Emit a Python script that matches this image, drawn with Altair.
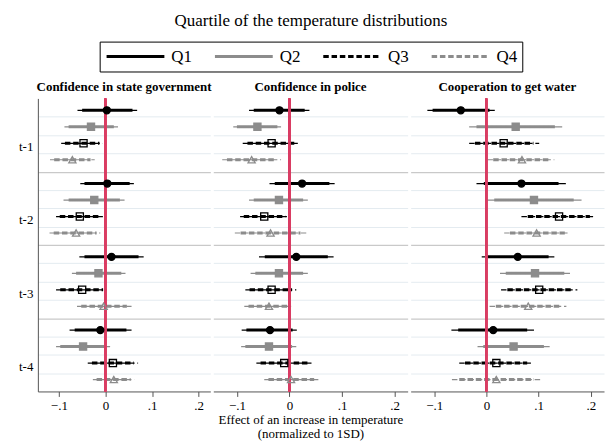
import altair as alt
import pandas as pd

FONT = "Liberation Serif"
RED = "#d93d63"
GRAY = "#8c8c8c"

lags = ["t-1", "t-2", "t-3", "t-4"]
quartiles = ["Q1", "Q2", "Q3", "Q4"]
panels = ["Confidence in state government", "Confidence in police", "Cooperation to get water"]
main_title = "Quartile of the temperature distributions"
x_title = ["Effect of an increase in temperature", "(normalized to 1SD)"]
tick_values = [-0.1, 0, 0.1, 0.2]

# order of each list: t-1 Q1..Q4, t-2 Q1..Q4, t-3 Q1..Q4, t-4 Q1..Q4
gov_est = [0.003, -0.031, -0.047, -0.071, 0.004, -0.024, -0.055, -0.063,
           0.013, -0.015, -0.050, -0.004, -0.011, -0.048, 0.016, 0.018]
gov_lo95 = [-0.060, -0.088, -0.095, -0.119, -0.054, -0.090, -0.106, -0.120,
            -0.056, -0.072, -0.106, -0.061, -0.077, -0.106, -0.038, -0.027]
gov_hi95 = [0.068, 0.027, -0.006, -0.023, 0.061, 0.041, -0.001, -0.011,
            0.082, 0.043, 0.003, 0.056, 0.056, 0.010, 0.070, 0.062]
gov_lo90 = [-0.050, -0.079, -0.087, -0.110, -0.045, -0.079, -0.098, -0.111,
            -0.045, -0.063, -0.097, -0.052, -0.066, -0.097, -0.029, -0.019]
gov_hi90 = [0.058, 0.018, -0.013, -0.032, 0.052, 0.031, -0.010, -0.019,
            0.071, 0.034, -0.005, 0.046, 0.045, 0.001, 0.061, 0.054]

pol_est = [-0.019, -0.061, -0.034, -0.072, 0.024, -0.020, -0.048, -0.036,
           0.013, -0.020, -0.034, -0.039, -0.037, -0.039, -0.010, 0.003]
pol_lo95 = [-0.077, -0.107, -0.089, -0.128, -0.038, -0.077, -0.094, -0.104,
            -0.058, -0.074, -0.084, -0.086, -0.091, -0.092, -0.063, -0.048]
pol_hi95 = [0.038, -0.016, 0.021, -0.016, 0.086, 0.035, 0.000, 0.032,
            0.084, 0.035, 0.013, 0.008, 0.014, 0.013, 0.043, 0.055]
pol_lo90 = [-0.068, -0.100, -0.080, -0.119, -0.028, -0.068, -0.087, -0.093,
            -0.047, -0.065, -0.076, -0.078, -0.082, -0.084, -0.055, -0.040]
pol_hi90 = [0.029, -0.023, 0.012, -0.025, 0.076, 0.026, -0.008, 0.021,
            0.073, 0.026, 0.005, 0.000, 0.006, 0.005, 0.035, 0.047]

wat_est = [-0.049, 0.056, 0.033, 0.068, 0.067, 0.091, 0.139, 0.096,
           0.060, 0.093, 0.101, 0.080, 0.013, 0.052, 0.019, 0.019]
wat_lo95 = [-0.113, -0.033, -0.033, 0.002, -0.019, 0.000, 0.067, 0.034,
            -0.009, 0.026, 0.028, 0.006, -0.067, -0.017, -0.052, -0.066]
wat_hi95 = [0.016, 0.145, 0.101, 0.130, 0.152, 0.182, 0.209, 0.160,
            0.130, 0.160, 0.174, 0.153, 0.091, 0.121, 0.089, 0.105]
wat_lo90 = [-0.103, -0.019, -0.022, 0.013, -0.005, 0.015, 0.079, 0.045,
            0.002, 0.037, 0.040, 0.018, -0.054, -0.006, -0.041, -0.052]
wat_hi90 = [0.006, 0.131, 0.090, 0.120, 0.138, 0.167, 0.198, 0.150,
            0.119, 0.149, 0.162, 0.142, 0.078, 0.110, 0.078, 0.091]

series = {
    panels[0]: (gov_est, gov_lo95, gov_hi95, gov_lo90, gov_hi90),
    panels[1]: (pol_est, pol_lo95, pol_hi95, pol_lo90, pol_hi90),
    panels[2]: (wat_est, wat_lo95, wat_hi95, wat_lo90, wat_hi90),
}

rows = []
for p, (est, lo95, hi95, lo90, hi90) in series.items():
    k = 0
    for li, lag in enumerate(lags):
        for qi, q in enumerate(quartiles):
            rows.append(dict(panel=p, lag=lag, lag_i=li, quartile=q, q_i=qi,
                             est=est[k], lo95=lo95[k], hi95=hi95[k],
                             lo90=lo90[k], hi90=hi90[k]))
            k += 1
df = pd.DataFrame(rows)

xscale = alt.Scale(domain=[-0.145, 0.225], nice=False, zero=False)
yscale = alt.Scale(domain=[0, 16], reverse=True, nice=False, zero=False)
col_scale = alt.Scale(domain=quartiles, range=["#000000", GRAY, "#000000", GRAY])
dash_scale = alt.Scale(domain=quartiles, range=[[1, 0], [1, 0], [5, 2.5], [5, 2.5]])
shape_scale = alt.Scale(domain=quartiles, range=["circle", "square", "square", "triangle-up"])
fill_scale = alt.Scale(domain=quartiles, range=["#000000", GRAY, "transparent", "transparent"])
size_scale = alt.Scale(domain=quartiles, range=[50, 52, 40, 30])

label_expr_x = "datum.value == 0 ? '0' : replace(format(datum.value, '.1f'), '0.', '.')"
lag_list = "[" + ",".join("'%s'" % l for l in lags) + "]"


def x_axis(with_title):
    kw = dict(values=tick_values, labelExpr=label_expr_x, grid=False, tickSize=5,
              labelFontSize=13, labelPadding=3, domainColor="#555", tickColor="#555",
              titleFontSize=13, titleFontWeight="normal", titlePadding=1,
              titleLineHeight=14.5)
    kw["title"] = x_title if with_title else ""
    return alt.Axis(**kw)


grid_axis = alt.Axis(
    orient="right", values=[v for v in range(1, 16)], grid=True,
    gridColor={"condition": {"test": "datum.value % 4 === 0", "value": "#c9c9c9"},
               "value": "#e4ebf0"},
    gridWidth={"condition": {"test": "datum.value % 4 === 0", "value": 1.3},
               "value": 1},
    labels=False, ticks=False, domain=False, title=None, minExtent=0, maxExtent=0)

label_axis = alt.Axis(
    orient="left", values=[4 * i + 2.63 for i in range(len(lags))],
    labelExpr=lag_list + "[floor(datum.value / 4)]", grid=False, ticks=False,
    domain=True, domainColor="#555", labelFontSize=13, labelPadding=5,
    title=None, minExtent=30, maxExtent=30)


def make_panel(name, idx, width):
    d = df[df.panel == name]
    base = alt.Chart(d).transform_calculate(
        ypos="4 * datum.lag_i + 0.65 + 0.9 * datum.q_i")
    xa = x_axis(idx == 1)
    thin = base.mark_rule(strokeWidth=1.2).encode(
        x=alt.X("lo95:Q", scale=xscale, axis=xa),
        x2="hi95:Q",
        y=alt.Y("ypos:Q", scale=yscale, axis=grid_axis),
        color=alt.Color("quartile:N", scale=col_scale, legend=None),
        strokeDash=alt.StrokeDash("quartile:N", scale=dash_scale, legend=None),
    )
    thick = base.mark_rule(strokeWidth=3).encode(
        x=alt.X("lo90:Q", scale=xscale, axis=xa),
        x2="hi90:Q",
        y=alt.Y("ypos:Q", scale=yscale, axis=label_axis if idx == 0 else None),
        color=alt.Color("quartile:N", scale=col_scale, legend=None),
        strokeDash=alt.StrokeDash("quartile:N", scale=dash_scale, legend=None),
    )
    zero = alt.Chart(d).mark_rule(color=RED, strokeWidth=1.5).encode(
        x=alt.datum(0, scale=xscale, axis=xa))
    pts = base.mark_point(strokeWidth=1.3, opacity=1, fillOpacity=1).encode(
        x=alt.X("est:Q", scale=xscale, axis=xa),
        y=alt.Y("ypos:Q", scale=yscale, axis=None),
        shape=alt.Shape("quartile:N", scale=shape_scale, legend=None),
        fill=alt.Fill("quartile:N", scale=fill_scale, legend=None),
        stroke=alt.Stroke("quartile:N", scale=col_scale, legend=None),
        size=alt.Size("quartile:N", scale=size_scale, legend=None),
    )
    return alt.layer(thin, thick, zero, pts).resolve_axis(y="independent").properties(
        width=width, height=294,
        title=alt.TitleParams(name, font=FONT, fontSize=13, fontWeight="bold",
                              frame="group", anchor="middle", offset=4, color="black"),
    )


p1 = make_panel(panels[0], 0, 173)
p2 = make_panel(panels[1], 1, 195)
p3 = make_panel(panels[2], 2, 194)

# legend drawn as its own small chart, shifted right by an empty spacer view
leg_df = pd.DataFrame({"quartile": quartiles})
leg_x = alt.X("quartile:N", scale=alt.Scale(type="point", domain=quartiles, padding=0.45), axis=None)
leg_base = alt.Chart(leg_df)
leg_lines = leg_base.mark_rule(strokeWidth=3, xOffset=-42, x2Offset=16).encode(
    x=leg_x, x2="quartile:N", y=alt.value(15),
    color=alt.Color("quartile:N", scale=col_scale, legend=None),
    strokeDash=alt.StrokeDash("quartile:N", scale=alt.Scale(
        domain=quartiles, range=[[1, 0], [1, 0], [5.5, 2.8], [5.5, 2.8]]), legend=None),
)
leg_text = leg_base.mark_text(align="left", baseline="middle", dx=23, font=FONT,
                              fontSize=17, color="black").encode(
    x=leg_x, y=alt.value(15), text="quartile:N")
legend = alt.layer(leg_lines, leg_text).properties(
    width=424, height=30, view=alt.ViewBackground(stroke="black", strokeWidth=1))
spacer = alt.Chart(leg_df).mark_point(opacity=0).encode(
    x=alt.value(0), y=alt.value(0)).properties(width=59, height=30)
legend_row = alt.hconcat(spacer, legend, spacing=3, bounds="flush")

row = alt.hconcat(p1, p2, p3, spacing=3, bounds="flush")

chart = alt.vconcat(legend_row, row, spacing=7).properties(
    title=alt.TitleParams(main_title, font=FONT, fontSize=17, fontWeight="normal",
                          anchor="middle", offset=8, dx=5, color="black"),
    padding={"left": 7, "top": 11, "right": 0, "bottom": 2},
    background="white",
).configure_view(stroke="transparent").configure_axis(
    labelFont=FONT, titleFont=FONT, labelColor="black", titleColor="black"
)

chart.save("out.html", embed_options={"renderer": "svg", "actions": False})
